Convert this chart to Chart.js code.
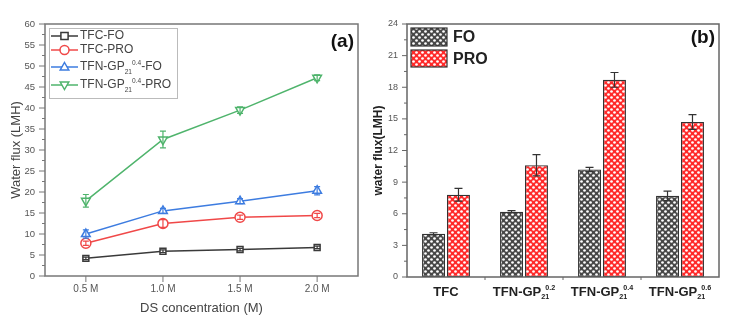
<!DOCTYPE html>
<html><head><meta charset="utf-8">
<script src="https://cdn.jsdelivr.net/npm/chart.js@4.4.0/dist/chart.umd.min.js"></script>
<style>
html,body{margin:0;padding:0;background:#fff;}
#wrap{position:relative;width:748px;height:331px;overflow:hidden;background:#fff;}
#ca{position:absolute;left:0;top:0;}
#cb{position:absolute;left:370px;top:0;}
</style></head><body>
<div id="wrap"><canvas id="ca" width="370" height="331"></canvas><canvas id="cb" width="378" height="331"></canvas></div>
<script>
// ---- Panel (a): flux vs draw-solution concentration ----
const concentrations = [0.5, 1.0, 1.5, 2.0];
const concTicks = ['0.5 M', '1.0 M', '1.5 M', '2.0 M'];
const seriesNames = ['TFC-FO', 'TFC-PRO', 'TFN-GP_{21}^{0.4}-FO', 'TFN-GP_{21}^{0.4}-PRO'];
const tfcFO = [4.2, 5.9, 6.3, 6.8];
const tfcFOErr = [0.3, 0.3, 0.3, 0.3];
const tfcPRO = [7.8, 12.5, 14.0, 14.4];
const tfcPROErr = [0.5, 0.9, 0.5, 0.5];
const tfnFO = [10.0, 15.5, 17.8, 20.3];
const tfnFOErr = [1.0, 0.6, 0.6, 1.0];
const tfnPRO = [17.9, 32.5, 39.5, 47.2];
const tfnPROErr = [1.5, 2.0, 0.8, 0.7];
const fluxTicksA = [0, 5, 10, 15, 20, 25, 30, 35, 40, 45, 50, 55, 60];

// ---- Panel (b): flux per membrane ----
const membranes = ['TFC', 'TFN-GP_{21}^{0.2}', 'TFN-GP_{21}^{0.4}', 'TFN-GP_{21}^{0.6}'];
const modeNames = ['FO', 'PRO'];
const fluxFO = [4.1, 6.2, 10.2, 7.7];
const fluxFOErr = [0.1, 0.1, 0.2, 0.45];
const fluxPRO = [7.8, 10.6, 18.7, 14.7];
const fluxPROErr = [0.6, 1.0, 0.7, 0.7];
const fluxTicksB = [0, 3, 6, 9, 12, 15, 18, 21, 24];

const SANS = '"Liberation Sans", Arial, sans-serif';

// split "A_{x}^{y}B" into plain / subscript / superscript pieces
function parseRich(s) {
  const parts = [];
  const re = /(_\{[^}]*\}|\^\{[^}]*\})/;
  s.split(re).forEach(p => {
    if (!p) return;
    if (p[0] === '_') parts.push({ t: p.slice(2, -1), k: 'sub' });
    else if (p[0] === '^') parts.push({ t: p.slice(2, -1), k: 'sup' });
    else parts.push({ t: p, k: 'n' });
  });
  return parts;
}
function fontOf(k, size, bold) {
  const s = k === 'n' ? size : size * 0.55;
  return (bold ? 'bold ' : '') + s + 'px ' + SANS;
}
function richWidth(ctx, parts, size, bold, overlap) {
  let w = 0;
  parts.forEach((p, i) => {
    ctx.font = fontOf(p.k, size, bold);
    let pw = ctx.measureText(p.t).width;
    if (p.k === 'sup' && i > 0 && parts[i - 1].k === 'sub') w -= overlap;
    w += pw;
  });
  return w;
}
function drawRich(ctx, text, x, y, size, bold, color, align, overlap) {
  overlap = overlap || 0;
  const parts = parseRich(text);
  let cx = x;
  const w = richWidth(ctx, parts, size, bold, overlap);
  if (align === 'center') cx = x - w / 2;
  else if (align === 'right') cx = x - w;
  ctx.save();
  ctx.fillStyle = color;
  ctx.textBaseline = 'middle';
  ctx.textAlign = 'left';
  parts.forEach((p, i) => {
    ctx.font = fontOf(p.k, size, bold);
    let dy = 0;
    if (p.k === 'sub') dy = size * 0.4;
    if (p.k === 'sup') { dy = -size * 0.32; if (i > 0 && parts[i - 1].k === 'sub') cx -= overlap; }
    ctx.fillText(p.t, cx, y + dy);
    cx += ctx.measureText(p.t).width;
  });
  ctx.restore();
}

function drawMarker(ctx, style, x, y, r, stroke) {
  ctx.save();
  ctx.strokeStyle = stroke; ctx.fillStyle = '#fff'; ctx.lineWidth = 1.5;
  ctx.beginPath();
  if (style === 'rect') { ctx.rect(x - r * 0.8, y - r * 0.8, r * 1.6, r * 1.6); }
  else if (style === 'circle') { ctx.arc(x, y, r, 0, Math.PI * 2); }
  else if (style === 'up') { ctx.moveTo(x, y - r); ctx.lineTo(x + r * 0.95, y + r * 0.65); ctx.lineTo(x - r * 0.95, y + r * 0.65); ctx.closePath(); }
  else { ctx.moveTo(x, y + r); ctx.lineTo(x + r * 0.95, y - r * 0.65); ctx.lineTo(x - r * 0.95, y - r * 0.65); ctx.closePath(); }
  ctx.fill(); ctx.stroke();
  ctx.restore();
}

// frame around the plot area plus outward major/minor tick marks
const framePlugin = {
  id: 'frame',
  afterDraw(chart, args, o) {
    const { ctx, chartArea: a } = chart;
    const ys = chart.scales.y, xs = chart.scales.x;
    ctx.save();
    ctx.strokeStyle = o.color; ctx.lineWidth = o.width;
    ctx.strokeRect(a.left, a.top, a.right - a.left, a.bottom - a.top);
    ctx.lineWidth = 1;
    ctx.beginPath();
    const yv = ys.ticks.map(t => t.value);
    yv.forEach((v, i) => {
      const p = ys.getPixelForValue(v);
      ctx.moveTo(a.left, p); ctx.lineTo(a.left - o.major, p);
      if (i < yv.length - 1) {
        const m = ys.getPixelForValue((v + yv[i + 1]) / 2);
        ctx.moveTo(a.left, m); ctx.lineTo(a.left - o.minor, m);
      }
    });
    if (o.category) {
      const n = chart.data.labels.length;
      for (let i = 0; i < n - 1; i++) {
        const p = (xs.getPixelForValue(i) + xs.getPixelForValue(i + 1)) / 2;
        ctx.moveTo(p, a.bottom); ctx.lineTo(p, a.bottom + o.minor);
      }
    } else {
      xs.ticks.forEach(t => {
        const p = xs.getPixelForValue(t.value);
        ctx.moveTo(p, a.bottom); ctx.lineTo(p, a.bottom + o.major);
      });
    }
    ctx.stroke();
    ctx.restore();
  }
};

// vertical error bars read from each dataset's `errors` array
const errorBarPlugin = {
  id: 'errbars',
  afterDatasetsDraw(chart, args, o) {
    const { ctx } = chart;
    const ys = chart.scales.y;
    chart.data.datasets.forEach((ds, di) => {
      if (!ds.errors) return;
      const meta = chart.getDatasetMeta(di);
      ctx.save();
      ctx.strokeStyle = o.color || ds.borderColor;
      ctx.lineWidth = o.width;
      meta.data.forEach((el, i) => {
        const v = typeof ds.data[i] === 'object' ? ds.data[i].y : ds.data[i];
        const e = ds.errors[i];
        const top = ys.getPixelForValue(v + e), bot = ys.getPixelForValue(v - e);
        const x = el.x;
        ctx.beginPath();
        ctx.moveTo(x, top); ctx.lineTo(x, bot);
        ctx.moveTo(x - o.cap, top); ctx.lineTo(x + o.cap, top);
        ctx.moveTo(x - o.cap, bot); ctx.lineTo(x + o.cap, bot);
        ctx.stroke();
      });
      ctx.restore();
    });
  }
};

// ---------- chart (a) ----------
const lineColors = ['#3a3a3a', '#f04848', '#3d7ce0', '#4fb46c'];
const markerStyles = ['rect', 'circle', 'up', 'down'];
const lineSeries = [tfcFO, tfcPRO, tfnFO, tfnPRO];
const lineErrors = [tfcFOErr, tfcPROErr, tfnFOErr, tfnPROErr];

const panelA = {
  id: 'panelA',
  afterDraw(chart) {
    const { ctx, chartArea: a } = chart;
    ctx.save();
    // axis titles
    ctx.fillStyle = '#444'; ctx.font = '13px ' + SANS; ctx.textAlign = 'center'; ctx.textBaseline = 'middle';
    ctx.fillText('DS concentration (M)', (a.left + a.right) / 2, 308);
    ctx.translate(16, (a.top + a.bottom) / 2); ctx.rotate(-Math.PI / 2);
    ctx.fillText('Water flux (LMH)', 0, 0);
    ctx.restore();
    // panel tag
    ctx.save();
    ctx.fillStyle = '#111'; ctx.font = 'bold 19px ' + SANS; ctx.textAlign = 'right'; ctx.textBaseline = 'middle';
    ctx.fillText('(a)', a.right - 4, 42);
    ctx.restore();
    // legend
    ctx.save();
    ctx.strokeStyle = '#bbb'; ctx.lineWidth = 1;
    ctx.strokeRect(a.left + 4.5, a.top + 4.5, 128, 70);
    ctx.restore();
    const rows = [36, 50, 67, 85];
    seriesNames.forEach((nm, i) => {
      const y = rows[i];
      ctx.save();
      ctx.strokeStyle = lineColors[i]; ctx.lineWidth = 1.5;
      ctx.beginPath(); ctx.moveTo(a.left + 6, y); ctx.lineTo(a.left + 33, y); ctx.stroke();
      ctx.restore();
      drawMarker(ctx, markerStyles[i], a.left + 19.5, y, 4.5, lineColors[i]);
      drawRich(ctx, nm, a.left + 35, y, 12, false, '#444', 'left', 0);
    });
  }
};

new Chart(document.getElementById('ca'), {
  type: 'line',
  data: {
    datasets: lineSeries.map((vals, i) => ({
      label: seriesNames[i],
      data: vals.map((v, j) => ({ x: concentrations[j], y: v })),
      errors: lineErrors[i],
      borderColor: lineColors[i],
      borderWidth: 1.5,
      pointStyle: markerStyles[i] === 'rect' ? 'rect' : (markerStyles[i] === 'circle' ? 'circle' : 'triangle'),
      rotation: markerStyles[i] === 'down' ? 180 : 0,
      pointRadius: markerStyles[i] === 'rect' ? 4.2 : 5,
      pointBackgroundColor: '#fff',
      pointBorderColor: lineColors[i],
      pointBorderWidth: 1.5,
      tension: 0
    }))
  },
  options: {
    responsive: false, animation: false, devicePixelRatio: 1,
    layout: { padding: { top: 24, right: 12, left: 0, bottom: 0 }, autoPadding: false },
    plugins: {
      legend: { display: false }, tooltip: { enabled: false },
      frame: { color: '#777', width: 1.5, major: 6, minor: 3 },
      errbars: { width: 1.2, cap: 3 }
    },
    scales: {
      x: {
        type: 'linear', min: 0.235, max: 2.265,
        afterBuildTicks(s) { s.ticks = concentrations.map(v => ({ value: v })); },
        afterFit(s) { s.height = 55; },
        grid: { display: false, drawTicks: false }, border: { display: false },
        ticks: { padding: 7, color: '#555', font: { size: 10, family: SANS }, maxRotation: 0,
          callback(v) { const i = concentrations.indexOf(v); return i >= 0 ? concTicks[i] : ''; } }
      },
      y: {
        min: 0, max: 60,
        afterBuildTicks(s) { s.ticks = fluxTicksA.map(v => ({ value: v })); },
        afterFit(s) { s.width = 45; },
        grid: { display: false, drawTicks: false }, border: { display: false },
        ticks: { padding: 10, color: '#555', font: { size: 9.5, family: SANS } }
      }
    }
  },
  plugins: [framePlugin, errorBarPlugin, panelA]
});

// ---------- chart (b) ----------
function dotPattern(base) {
  const c = document.createElement('canvas');
  c.width = 6; c.height = 6;
  const g = c.getContext('2d');
  g.fillStyle = base; g.fillRect(0, 0, 6, 6);
  g.fillStyle = '#fff';
  [[1.5, 1.5], [4.5, 4.5]].forEach(([x, y]) => { g.beginPath(); g.arc(x, y, 1.35, 0, Math.PI * 2); g.fill(); });
  return g.createPattern(c, 'repeat');
}
const ctxB = document.getElementById('cb').getContext('2d');
const patFO = dotPattern('#484848');
const patPRO = dotPattern('#ff2a2a');
const barFills = [patFO, patPRO];

const panelB = {
  id: 'panelB',
  afterDraw(chart) {
    const { ctx, chartArea: a } = chart;
    const xs = chart.scales.x;
    // category labels with sub/superscripts
    membranes.forEach((m, i) => {
      drawRich(ctx, m, xs.getPixelForValue(i), 292, 13, true, '#222', 'center', 4);
    });
    ctx.save();
    ctx.fillStyle = '#222'; ctx.font = 'bold 12px ' + SANS; ctx.textAlign = 'center'; ctx.textBaseline = 'middle';
    ctx.translate(9, (a.top + a.bottom) / 2); ctx.rotate(-Math.PI / 2);
    ctx.fillText('water flux(LMH)', 0, 0);
    ctx.restore();
    ctx.save();
    ctx.fillStyle = '#111'; ctx.font = 'bold 19px ' + SANS; ctx.textAlign = 'right'; ctx.textBaseline = 'middle';
    ctx.fillText('(b)', a.right - 4, 38);
    ctx.restore();
    // legend swatches
    const sw = [[28, 46], [50, 67]];
    modeNames.forEach((nm, i) => {
      ctx.save();
      ctx.fillStyle = barFills[i];
      ctx.fillRect(a.left + 4, sw[i][0], 36, sw[i][1] - sw[i][0]);
      ctx.strokeStyle = '#333'; ctx.lineWidth = 1.2;
      ctx.strokeRect(a.left + 4, sw[i][0], 36, sw[i][1] - sw[i][0]);
      ctx.fillStyle = '#222'; ctx.font = 'bold 16px ' + SANS; ctx.textAlign = 'left'; ctx.textBaseline = 'middle';
      ctx.fillText(nm, a.left + 46, (sw[i][0] + sw[i][1]) / 2 + 1);
      ctx.restore();
    });
  }
};

new Chart(ctxB, {
  type: 'bar',
  data: {
    labels: membranes,
    datasets: [
      { label: modeNames[0], data: fluxFO, errors: fluxFOErr, backgroundColor: patFO },
      { label: modeNames[1], data: fluxPRO, errors: fluxPROErr, backgroundColor: patPRO }
    ].map(d => Object.assign(d, { borderColor: '#333', borderWidth: 1.3, borderSkipped: false,
      categoryPercentage: 0.64, barPercentage: 0.92 }))
  },
  options: {
    responsive: false, animation: false, devicePixelRatio: 1,
    layout: { padding: { top: 24, right: 29, left: 0, bottom: 0 }, autoPadding: false },
    plugins: {
      legend: { display: false }, tooltip: { enabled: false },
      frame: { color: '#666', width: 1.5, major: 5, minor: 3, category: true },
      errbars: { width: 1.2, cap: 4, color: '#333' }
    },
    scales: {
      x: {
        afterFit(s) { s.height = 54; },
        grid: { display: false, drawTicks: false }, border: { display: false },
        ticks: { display: false }
      },
      y: {
        min: 0, max: 24,
        afterBuildTicks(s) { s.ticks = fluxTicksB.map(v => ({ value: v })); },
        afterFit(s) { s.width = 37; },
        grid: { display: false, drawTicks: false }, border: { display: false },
        ticks: { padding: 9, color: '#555', font: { size: 9, family: SANS } }
      }
    }
  },
  plugins: [framePlugin, errorBarPlugin, panelB]
});
</script>
</body></html>
